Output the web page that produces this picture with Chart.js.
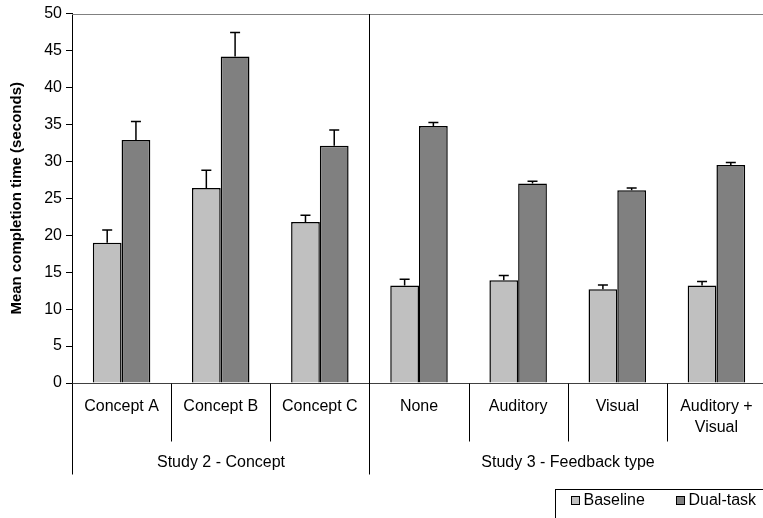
<!DOCTYPE html>
<html>
<head>
<meta charset="utf-8">
<script src="https://cdn.jsdelivr.net/npm/chart.js@4.4.0/dist/chart.umd.min.js"></script>
<style>
html, body { margin: 0; padding: 0; background: #fff; overflow: hidden; }
canvas { display: block; }
</style>
</head>
<body>
<canvas id="chart" width="766" height="518"></canvas>
<script>
/* values */
var categories = ['Concept A', 'Concept B', 'Concept C', 'None', 'Auditory', 'Visual', ['Auditory +', 'Visual']];
var groups = ['Study 2 - Concept', 'Study 3 - Feedback type'];
var groupSizes = [3, 4];
var baseline = [19.0, 26.4, 21.8, 13.2, 13.9, 12.7, 13.2];
var baselineErr = [1.7, 2.4, 0.9, 0.85, 0.65, 0.55, 0.55];
var dualTask = [32.9, 44.2, 32.1, 34.8, 27.0, 26.1, 29.5];
var dualTaskErr = [2.5, 3.25, 2.15, 0.45, 0.3, 0.3, 0.35];
var yMin = 0, yMax = 50, yStep = 5;

var FONT = '"Liberation Sans", Arial, sans-serif';
Chart.defaults.font.family = FONT;
Chart.defaults.font.size = 16;
Chart.defaults.color = '#000';

/* upper error bars on top of every bar */
const errorBars = {
    id: 'errorBars',
    afterDatasetsDraw(chart) {
        const ctx = chart.ctx;
        const y = chart.scales.y;
        chart.data.datasets.forEach((ds, i) => {
            const meta = chart.getDatasetMeta(i);
            meta.data.forEach((bar, j) => {
                const top = y.getPixelForValue(ds.data[j] + ds.errors[j]);
                ctx.save();
                ctx.strokeStyle = '#000';
                ctx.lineWidth = 1.5;
                ctx.beginPath();
                ctx.moveTo(bar.x, bar.y);
                ctx.lineTo(bar.x, top);
                ctx.moveTo(bar.x - 5, top);
                ctx.lineTo(bar.x + 5, top);
                ctx.stroke();
                ctx.restore();
            });
        });
    }
};

/* two level category axis + frame + legend box */
const groupAxis = {
    id: 'groupAxis',
    afterDraw(chart) {
        const ctx = chart.ctx;
        const area = chart.chartArea;
        const x = chart.scales.x;
        const half = (x.getPixelForValue(1) - x.getPixelForValue(0)) / 2;
        const edge = k => Math.round(x.getPixelForValue(k) - half) + 0.5;
        const bottom = Math.round(area.bottom) + 0.5;

        ctx.save();
        // plot area frame (grey top)
        ctx.strokeStyle = '#808080';
        ctx.lineWidth = 1;
        ctx.beginPath();
        ctx.moveTo(area.left, Math.round(area.top) + 0.5);
        ctx.lineTo(area.right, Math.round(area.top) + 0.5);
        ctx.stroke();

        // x axis line
        ctx.strokeStyle = '#404040';
        ctx.beginPath();
        ctx.moveTo(area.left, bottom);
        ctx.lineTo(area.right, bottom);
        ctx.stroke();

        // separators
        ctx.strokeStyle = '#000';
        let start = 0;
        const outer = [0];
        groupSizes.forEach(n => { start += n; outer.push(start); });
        for (let k = 0; k <= categories.length; k++) {
            const px = edge(k);
            ctx.beginPath();
            if (outer.indexOf(k) >= 0) {
                const fromY = (k === 0 || k === categories.length) ? bottom : Math.round(area.top);
                ctx.moveTo(px, fromY);
                ctx.lineTo(px, bottom + 91);
            } else {
                ctx.moveTo(px, bottom);
                ctx.lineTo(px, bottom + 58);
            }
            ctx.stroke();
        }

        // category labels
        ctx.fillStyle = '#000';
        ctx.font = '16px ' + FONT;
        ctx.textAlign = 'center';
        ctx.textBaseline = 'middle';
        categories.forEach((lab, i) => {
            const lines = Array.isArray(lab) ? lab : [lab];
            lines.forEach((t, l) => {
                ctx.fillText(t, x.getPixelForValue(i), bottom + 23.5 + l * 21);
            });
        });

        // group labels
        groups.forEach((g, gi) => {
            const cx = (edge(outer[gi]) + edge(outer[gi + 1])) / 2;
            ctx.fillText(g, cx, bottom + 79);
        });

        // legend box
        const lx = 555.5, ly = 489.5;
        ctx.strokeStyle = '#000';
        ctx.strokeRect(lx, ly, 260, 60);
        ctx.textAlign = 'left';
        const itemX = [571.5, 676.5];
        chart.data.datasets.forEach((ds, i) => {
            ctx.fillStyle = ds.backgroundColor;
            ctx.fillRect(itemX[i], 496.5, 8, 8);
            ctx.strokeRect(itemX[i], 496.5, 8, 8);
            ctx.fillStyle = '#000';
            ctx.fillText(ds.label, itemX[i] + 12, 501);
        });
        ctx.restore();
    }
};

const ctx = document.getElementById('chart').getContext('2d');
const chart = new Chart(ctx, {
    type: 'bar',
    data: {
        labels: categories,
        datasets: [{
            label: 'Baseline',
            data: baseline,
            errors: baselineErr,
            backgroundColor: '#C0C0C0',
            borderColor: '#000',
            borderWidth: 1.5
        }, {
            label: 'Dual-task',
            data: dualTask,
            errors: dualTaskErr,
            backgroundColor: '#808080',
            borderColor: '#000',
            borderWidth: 1.5
        }]
    },
    options: {
        responsive: false,
        animation: false,
        devicePixelRatio: 1,
        categoryPercentage: 0.58,
        barPercentage: 1.0,
        layout: { padding: { top: 13, right: 0, bottom: 135, left: 0 } },
        plugins: {
            legend: { display: false },
            tooltip: { enabled: false }
        },
        scales: {
            x: { display: false },
            y: {
                min: yMin,
                max: yMax,
                ticks: { stepSize: yStep, padding: 4, font: { size: 16 } },
                grid: { drawOnChartArea: false, drawTicks: true, tickLength: 6, color: '#000' },
                border: { color: '#000', width: 1 },
                title: {
                    display: true,
                    text: 'Mean completion time (seconds)',
                    font: { size: 15, weight: 'bold' },
                    padding: { top: 8, bottom: 0 }
                },
                afterFit: function (scale) { scale.width = 72; }
            }
        }
    },
    plugins: [errorBars, groupAxis]
});
</script>
</body>
</html>
